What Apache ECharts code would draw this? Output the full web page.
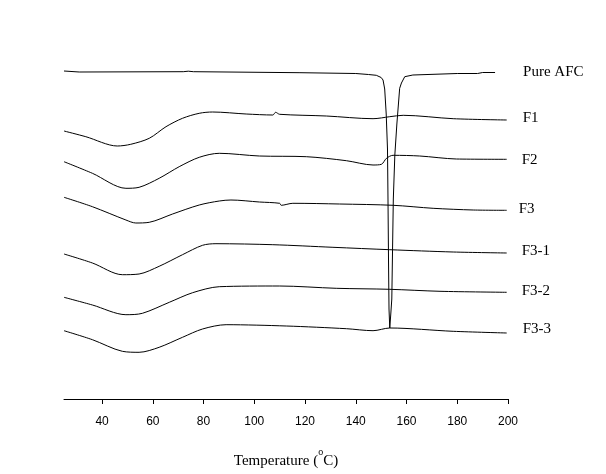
<!DOCTYPE html>
<html>
<head>
<meta charset="utf-8">
<script src="https://cdn.jsdelivr.net/npm/echarts@6/dist/echarts.min.js"></script>
<style>html,body{margin:0;padding:0;background:#fff}#c{width:606px;height:474px}</style>
</head>
<body>
<div id="c"></div>
<script>
const seriesNames = ['Pure AFC', 'F1', 'F2', 'F3', 'F3-1', 'F3-2', 'F3-3'];
const xTicks = [40, 60, 80, 100, 120, 140, 160, 180, 200];

const pureT = [25, 31, 72, 74, 76, 118, 140, 145, 148.1, 150.0, 150.75, 151.4, 152.0, 152.5, 152.7, 152.9, 153.1, 153.4, 153.8, 154.2, 154.5, 154.8, 155.4, 156.2, 157.3, 158.0, 159.3, 162.5, 180, 188, 190, 194.9];
const pureV = [32.8, 32.7, 32.73, 32.78, 32.73, 32.63, 32.55, 32.45, 32.37, 32.15, 31.9, 31.0, 28.5, 25, 20, 14, 9, 7.1, 8.5, 10, 15, 20, 24.4, 27.5, 31.07, 31.6, 32.23, 32.4, 32.55, 32.55, 32.65, 32.65];

const f1T = [25, 33.6, 46, 51.3, 58.6, 65.2, 71.7, 78.3, 83.6, 96.8, 107.3, 108.4, 110, 128.4, 146.8, 153.4, 158.7, 178.4, 199.5];
const f1V = [26.8, 26.23, 25.3, 25.47, 26.07, 27.23, 28.07, 28.57, 28.7, 28.5, 28.4, 28.67, 28.47, 28.3, 28.03, 28.23, 28.37, 28.03, 27.9];

const f2T = [25, 36.2, 49.4, 54.6, 62.5, 70.4, 78.3, 86.2, 102, 120.5, 136.3, 146.8, 150.1, 152.1, 154.7, 165.2, 179.7, 199.5];
const f2V = [23.73, 22.57, 21.07, 21.17, 22.07, 23.23, 24.17, 24.57, 24.3, 24.23, 23.83, 23.4, 23.47, 24.07, 24.37, 24.3, 24.0, 23.97];

const f3T = [25, 36.2, 49.4, 53.3, 58.6, 67.8, 78.3, 86.2, 90.8, 102, 110, 110.6, 115.2, 133.6, 154.7, 170.5, 186.3, 199.5];
const f3V = [20.17, 19.23, 17.9, 17.6, 17.67, 18.5, 19.4, 19.8, 19.9, 19.7, 19.57, 19.37, 19.57, 19.5, 19.37, 19.07, 18.9, 18.87];

const f31T = [25, 36.2, 48, 54.6, 62.5, 71.7, 79.6, 84.9, 107.3, 131, 153.4, 178.4, 199.5];
const f31V = [14.5, 13.6, 12.43, 12.5, 13.27, 14.43, 15.37, 15.53, 15.43, 15.17, 14.93, 14.7, 14.6];

const f32T = [25, 36.2, 49.4, 55.9, 66.5, 75.7, 86.2, 110, 132.3, 153.4, 173.2, 199.5];
const f32V = [10.17, 9.4, 8.43, 8.57, 9.67, 10.63, 11.23, 11.3, 11.07, 10.97, 10.77, 10.67];

const f33T = [25, 36.2, 48, 54.6, 62.5, 71.7, 79.6, 88.9, 112.6, 136.3, 146.8, 153.4, 178.4, 199.5];
const f33V = [6.83, 5.93, 4.77, 4.67, 5.17, 6.17, 7.0, 7.43, 7.3, 7.03, 6.83, 7.1, 6.77, 6.6];

const allT = [pureT, f1T, f2T, f3T, f31T, f32T, f33T];
const allV = [pureV, f1V, f2V, f3V, f31V, f32V, f33V];
const labelDist = [28, 16, 15, 12, 15, 15, 16];
const labelDy = [0, -2, 1, -1, -1.5, -1, -4];
const smoothing = [false, 0.3, 0.3, 0.3, 0.3, 0.3, 0.3];

const FONT = '"Liberation Serif", "Times New Roman", serif';

const series = seriesNames.map((name, i) => ({
  name: name,
  type: 'line',
  data: allT[i].map((t, k) => [t, allV[i][k]]),
  showSymbol: false,
  symbol: 'none',
  smooth: smoothing[i],
  lineStyle: { color: '#000', width: 1 },
  animation: false,
  endLabel: {
    show: true,
    formatter: name,
    distance: labelDist[i],
    offset: [0, labelDy[i]],
    color: '#000',
    fontFamily: FONT,
    fontSize: 15
  }
}));

const chart = echarts.init(document.getElementById('c'), null, { renderer: 'canvas' });
chart.setOption({
  backgroundColor: '#fff',
  animation: false,
  grid: { left: 64, right: 98, top: 39, bottom: 75, outerBoundsMode: 'none', containLabel: false },
  xAxis: {
    type: 'value',
    min: 25,
    max: 200,
    name: '{n|Temperature (}{sup|o}{n|C)}',
    nameLocation: 'middle',
    nameGap: 48,
    nameTextStyle: {
      color: '#000', fontFamily: FONT, fontSize: 15,
      rich: {
        n: { fontSize: 15, fontFamily: FONT, color: '#000', lineHeight: 22, verticalAlign: 'bottom' },
        sup: { fontSize: 10, fontFamily: FONT, color: '#000', lineHeight: 10, verticalAlign: 'top' }
      }
    },
    axisLine: { show: true, lineStyle: { color: '#000', width: 1 } },
    axisTick: { show: true, inside: false, length: 5, lineStyle: { color: '#000' }, customValues: xTicks },
    axisLabel: { color: '#000', fontFamily: '"Liberation Sans", Arial, sans-serif', fontSize: 12, margin: 17, customValues: xTicks },
    splitLine: { show: false }
  },
  yAxis: {
    type: 'value',
    min: 0,
    max: 36,
    show: false,
    splitLine: { show: false }
  },
  series: series
});
</script>
</body>
</html>
